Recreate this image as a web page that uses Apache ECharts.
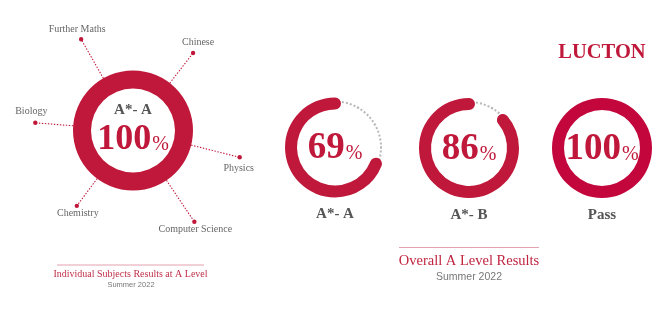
<!DOCTYPE html>
<html><head><meta charset="utf-8">
<script src="https://cdn.jsdelivr.net/npm/echarts@6/dist/echarts.min.js"></script>
<style>html,body{margin:0;padding:0;background:#fff}#c{width:665px;height:320px}</style>
</head><body><div id="c"></div>
<script>
// ---- data ----
const subjects = ['Further Maths', 'Chinese', 'Biology', 'Physics', 'Chemistry', 'Computer Science'];
const subjectGrade = 'A*- A';
const subjectValue = 100;
const overallCategories = ['A*- A', 'A*- B', 'Pass'];
const overallValues = [69, 86, 100];
const leftTitle = 'Individual Subjects Results at A Level';
const rightTitle = 'Overall A Level Results';
const period = 'Summer 2022';
const brand = 'LUCTON';

// ---- layout / style ----
const RED = '#c0183a';
const ringColors = ['#c0183a', '#c0183a', '#c3063b'];
const SERIF = '"Liberation Serif", "Times New Roman", serif';
const SANS = '"Liberation Sans", Arial, sans-serif';
const bigCenter = [133, 130.5];
const bigR = 60, bigW = 18;
const leaderAngles = [-119.6, -52.2, -175.5, 14.1, 126.7, 56.1];
const leaderLen = [105, 98, 98, 110, 94, 110];
const labelOffset = [[-4, -10], [5, -10.5], [-4, -11], [-1, 11], [1, 7.5], [1, 7.5]];
const smallCenters = [[335, 147.5], [469, 148], [602, 148]];
const smallR = 50, smallW = 12;

function ring(o) {
  return {
    type: 'gauge', center: o.center, radius: o.r,
    startAngle: 90, endAngle: 450, clockwise: false,
    min: 0, max: 100, splitNumber: 12,
    pointer: { show: false }, anchor: { show: false },
    progress: { show: true, width: o.w, roundCap: o.roundCap, itemStyle: { color: o.color } },
    axisLine: { show: false, lineStyle: { width: o.w } },
    splitLine: { show: false }, axisLabel: { show: false },
    axisTick: o.dots ? { show: true, splitNumber: 6, distance: -9, length: 2,
      lineStyle: { color: '#b8b8b8', width: 2 } } : { show: false },
    title: { show: true, offsetCenter: [0, o.titleY], color: '#555', fontFamily: SERIF,
      fontWeight: 'bold', fontSize: 15 },
    detail: {
      offsetCenter: [0, o.detailY], color: RED,
      formatter: '{v|{value}}{p|%}',
      rich: {
        v: { fontFamily: SERIF, fontWeight: 'bold', fontSize: o.vSize, lineHeight: o.vSize, color: RED, verticalAlign: 'bottom' },
        p: { fontFamily: SERIF, fontWeight: 'normal', fontSize: 20, lineHeight: 20, color: RED, verticalAlign: 'bottom', padding: [0, 0, 3, 1] }
      }
    },
    data: [{ value: o.value, name: o.name }]
  };
}

const series = [ring({ center: bigCenter, r: bigR, w: bigW, color: RED, roundCap: false, dots: false,
  value: subjectValue, name: subjectGrade, titleY: -20.5, detailY: 9, vSize: 36 })];
overallValues.forEach((v, i) => {
  series.push(ring({ center: smallCenters[i], r: smallR, w: smallW, color: ringColors[i], roundCap: true,
    dots: v < 100, value: v, name: overallCategories[i], titleY: 67, detailY: 1, vSize: 37 }));
});

const graphic = [];
subjects.forEach((s, i) => {
  const a = leaderAngles[i] * Math.PI / 180;
  const cx = Math.cos(a), cy = Math.sin(a);
  const x1 = bigCenter[0] + cx * bigR, y1 = bigCenter[1] + cy * bigR;
  const x2 = bigCenter[0] + cx * leaderLen[i], y2 = bigCenter[1] + cy * leaderLen[i];
  graphic.push({ type: 'line', shape: { x1, y1, x2, y2 }, style: { stroke: RED, lineWidth: 1.1, lineDash: [1.4, 1.6] }, silent: true });
  graphic.push({ type: 'circle', shape: { cx: x2, cy: y2, r: 2.2 }, style: { fill: RED }, silent: true });
  graphic.push({ type: 'text', x: x2 + labelOffset[i][0], y: y2 + labelOffset[i][1],
    style: { text: s, align: 'center', verticalAlign: 'middle', textAlign: 'center', textVerticalAlign: 'middle',
      fontFamily: SERIF, fontSize: 10, fill: '#666' }, silent: true });
});
function txt(t, x, y, size, color, family, weight) {
  return { type: 'text', x, y, silent: true,
    style: { text: t, align: 'center', verticalAlign: 'middle', textAlign: 'center', textVerticalAlign: 'middle',
      fontFamily: family, fontSize: size, fontWeight: weight || 'normal', fill: color } };
}
graphic.push({ type: 'line', shape: { x1: 57, y1: 265, x2: 204, y2: 265 }, style: { stroke: '#e2a2ae', lineWidth: 1 }, silent: true });
graphic.push(txt(leftTitle, 130.5, 274.5, 10, '#c0304a', SERIF));
graphic.push(txt(period, 131, 285, 7.5, '#777', SANS));
graphic.push({ type: 'line', shape: { x1: 399, y1: 247.5, x2: 539, y2: 247.5 }, style: { stroke: '#e2a2ae', lineWidth: 1 }, silent: true });
graphic.push(txt(rightTitle, 469, 261.5, 14.5, '#c0243f', SERIF));
graphic.push(txt(period, 469, 277, 10.5, '#777', SANS));
graphic.push(txt(brand, 602, 53, 20.5, '#c0183a', SERIF, 'bold'));

const chart = echarts.init(document.getElementById('c'), null, { renderer: 'canvas' });
chart.setOption({ animation: false, backgroundColor: '#fff', series, graphic });
</script></body></html>
